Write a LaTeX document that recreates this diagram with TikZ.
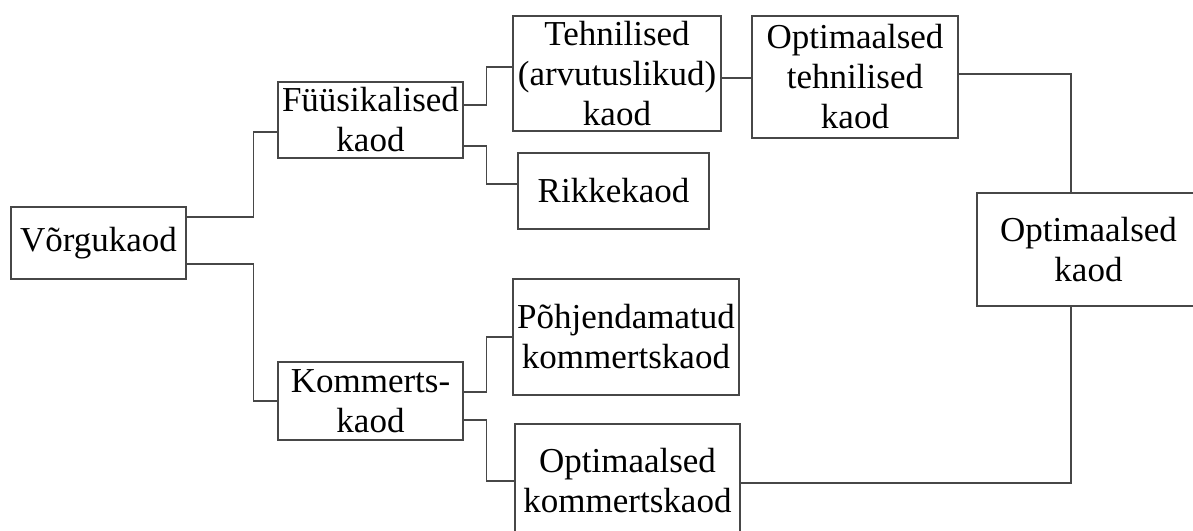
\documentclass[tikz,border=0pt]{standalone}
\usepackage{fontspec}
\setmainfont{Liberation Serif}
\begin{document}
\begin{tikzpicture}[x=1pt,y=-1pt,
  box/.style={draw=black!72, line width=1.3pt, rectangle, inner sep=0pt, align=center,
    font=\fontsize{35}{40}\selectfont, text=black},
  conn/.style={draw=black!72, line width=1.3pt}]
\useasboundingbox (0,0) rectangle (1193,530);
\clip (0,0) rectangle (1193,530);
\fill[white] (0,0) rectangle (1193,530);
% boxes
\node[box, minimum width=175pt, minimum height=72pt] (v) at (98.5,243) {Võrgukaod};
\node[box, minimum width=185pt, minimum height=76pt] (f) at (370.5,120) {Füüsikalised\\kaod};
\node[box, minimum width=185pt, minimum height=78pt] (k) at (370.5,401) {Kommerts-\\kaod};
\node[box, minimum width=208pt, minimum height=115pt] (t) at (617,73.5) {Tehnilised\\(arvutuslikud)\\kaod};
\node[box, minimum width=191pt, minimum height=76pt] (r) at (613.5,191) {Rikkekaod};
\node[box, minimum width=226pt, minimum height=116pt] (p) at (626,337) {Põhjendamatud\\kommertskaod};
\node[box, minimum width=225pt, minimum height=114pt] (ok) at (627.5,481) {Optimaalsed\\kommertskaod};
\node[box, minimum width=206pt, minimum height=122pt] (ot) at (855,77) {Optimaalsed\\tehnilised\\kaod};
\node[box, minimum width=223pt, minimum height=113pt] (oc) at (1088.5,249.5) {Optimaalsed\\kaod};
% connectors
\draw[conn] ([yshift=26pt]v.east) -- ++(67,0) |- ([yshift=-12pt]f.west);
\draw[conn] ([yshift=-21pt]v.east) -- ++(67,0) |- (k.west);
\draw[conn] ([yshift=15pt]f.east) -- ++(23,0) |- ([yshift=6.5pt]t.west);
\draw[conn] ([yshift=-26pt]f.east) -- ++(23,0) |- ([yshift=7pt]r.west);
\draw[conn] ([yshift=9pt]k.east) -- ++(23,0) |- (p.west);
\draw[conn] ([yshift=-19pt]k.east) -- ++(23,0) |- (ok.west);
\draw[conn] ([yshift=-1pt]ot.west) -- ([yshift=-1pt]ot.west -| t.east);
\draw[conn] ([yshift=3pt]ot.east) -| ([xshift=-17.5pt]oc.north);
\draw[conn] ([yshift=-2pt]ok.east) -| ([xshift=-17.5pt]oc.south);
\end{tikzpicture}
\end{document}
